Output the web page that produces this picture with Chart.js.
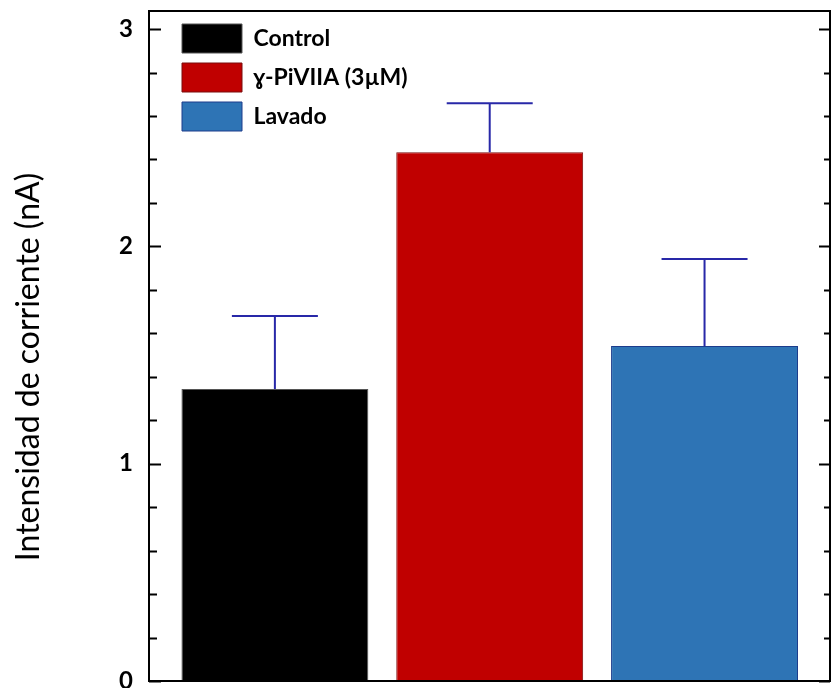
<!DOCTYPE html>
<html>
<head>
<meta charset="utf-8">
<script src="https://cdn.jsdelivr.net/npm/chart.js@4/dist/chart.umd.min.js"></script>
<style>
  html, body { margin: 0; padding: 0; background: #fff; }
  #wrap { width: 833px; height: 688px; }
</style>
</head>
<body>
<div id="wrap"><canvas id="jsChart"></canvas></div>
<script>
// data
const categories = ['Control', 'ɣ-PiVIIA (3µM)', 'Lavado'];
const means = [1.344, 2.433, 1.542];
const errors = [0.336, 0.225, 0.400];
const yTicks = [0, 1, 2, 3];
const yTitle = 'Intensidad de corriente (nA)';

const fillColors = ['#000000', '#c00000', '#2e74b5'];
const edgeColors = ['#555555', '#7a0c0c', '#1c3c8c'];
const errColor = '#2828a8';

// frame, inward ticks, error bars and the y title
const framePlugin = {
  id: 'frame',
  afterLayout(chart) {
    // move the legend into place inside the plot
    chart.legend.left += 23;
    chart.legend.top += 14;
  },
  afterDatasetsDraw(chart) {
    const ctx = chart.ctx;
    const a = chart.chartArea;
    const xs = chart.scales.x;
    const ys = chart.scales.y;
    ctx.save();

    // error bars
    ctx.strokeStyle = errColor;
    ctx.lineWidth = 2;
    means.forEach((m, i) => {
      const px = xs.getPixelForValue(i);
      const y0 = ys.getPixelForValue(m);
      const y1 = ys.getPixelForValue(m + errors[i]);
      ctx.beginPath();
      ctx.moveTo(px, y0);
      ctx.lineTo(px, y1);
      ctx.moveTo(px - 43, y1);
      ctx.lineTo(px + 43, y1);
      ctx.stroke();
    });

    // box round the plot
    ctx.strokeStyle = '#000';
    ctx.lineWidth = 2;
    ctx.strokeRect(a.left, a.top, a.right - a.left, a.bottom - a.top);

    // ticks pointing in, long on whole numbers
    ys.ticks.forEach((t) => {
      const py = Math.round(ys.getPixelForValue(t.value)) + 0.5;
      const major = Math.abs(t.value - Math.round(t.value)) < 1e-6;
      const lenL = major ? 12 : 8;
      const lenR = major ? 11 : 6;
      ctx.beginPath();
      ctx.moveTo(a.left, py);
      ctx.lineTo(a.left + lenL, py);
      ctx.moveTo(a.right, py);
      ctx.lineTo(a.right - lenR, py);
      ctx.stroke();
    });

    // axis title, sits a bit below the middle in the original
    ctx.translate(29, 367);
    ctx.rotate(-Math.PI / 2);
    ctx.fillStyle = '#000';
    ctx.font = 'normal 32px Lato';
    ctx.textAlign = 'center';
    ctx.textBaseline = 'middle';
    ctx.fillText(yTitle, 0, 0);
    ctx.restore();
  }
};

const ctx = document.getElementById('jsChart');

new Chart(ctx, {
  type: 'bar',
  data: {
    datasets: [{
      label: 'Intensidad',
      data: means.map((v, i) => ({ x: i, y: v })),
      backgroundColor: fillColors,
      borderColor: edgeColors,
      borderWidth: 1,
      barPercentage: 0.87,
      categoryPercentage: 1,
    }],
  },
  options: {
    responsive: true,
    maintainAspectRatio: false,
    animation: false,
    events: [],
    layout: { padding: { top: 11, right: 3, left: 0, bottom: 0 } },
    plugins: {
      tooltip: { enabled: false },
      legend: {
        position: 'chartArea',
        align: 'start',
        labels: {
          boxWidth: 60,
          boxHeight: 29,
          padding: 10,
          color: '#000',
          font: { family: 'Lato', size: 23, weight: 'bold' },
          generateLabels: () => categories.map((c, i) => ({
            text: c,
            fillStyle: fillColors[i],
            strokeStyle: edgeColors[i],
            lineWidth: 1,
            hidden: false,
            index: i,
          })),
        },
      },
    },
    scales: {
      x: {
        type: 'linear',
        offset: false,
        min: -0.586,
        max: 2.584,
        grid: { display: false, drawTicks: false },
        border: { display: false },
        ticks: { display: false, stepSize: 1, includeBounds: false },
        afterFit: (s) => { s.height = 7; s.paddingLeft = 0; s.paddingRight = 0; },
      },
      y: {
        min: 0,
        max: 3.083,
        grid: { display: false, drawTicks: false },
        border: { display: false },
        ticks: {
          stepSize: 0.2,
          includeBounds: false,
          autoSkip: false,
          padding: 16,
          color: '#000',
          font: { family: 'Lato', size: 24, weight: 'bold' },
          callback: (v) => {
            const r = Math.round(v);
            return (Math.abs(v - r) < 1e-6 && yTicks.includes(r)) ? String(r) : '';
          },
        },
        afterFit: (s) => { s.width = 149; s.paddingTop = 0; s.paddingBottom = 0; },
      },
    },
  },
  plugins: [framePlugin],
});
</script>
</body>
</html>
